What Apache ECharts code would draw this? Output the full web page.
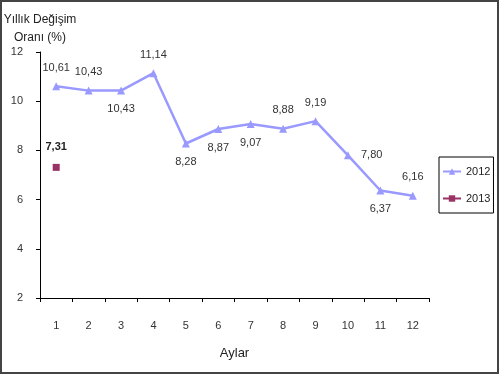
<!DOCTYPE html>
<html><head><meta charset="utf-8">
<script src="https://cdn.jsdelivr.net/npm/echarts@6/dist/echarts.min.js"></script>
<style>html,body{margin:0;padding:0;background:#fff}#c{width:500px;height:375px}</style>
</head><body><div id="c"></div>
<script>
const months = ['1','2','3','4','5','6','7','8','9','10','11','12'];
const values2012 = [10.61, 10.43, 10.43, 11.14, 8.28, 8.87, 9.07, 8.88, 9.19, 7.80, 6.37, 6.16];
const values2013 = [7.31, null, null, null, null, null, null, null, null, null, null, null];
const yTicks = [2, 4, 6, 8, 10, 12];
const labelSide2012 = ['top','top','bottom','top','bottom','bottom','bottom','top','top','right','bottom','top'];

const fmt = v => v.toFixed(2).replace('.', ',');
const font = '"Liberation Sans", Arial, sans-serif';
const chart = echarts.init(document.getElementById('c'));
chart.setOption({
  animation: false,
  textStyle: {fontFamily: font},
  graphic: [{type:'rect', shape:{x:1,y:1,width:497,height:372}, style:{fill:'none', stroke:'#444', lineWidth:2}, z:-1}],
  grid: {left: 40, right: 71, top: 52, bottom: 77, outerBoundsMode: 'none', containLabel: false},
  legend: {
    orient: 'vertical', left: 439, top: 157, itemGap: 16,
    borderColor: '#000', borderWidth: 1, padding: [9, 3, 9, 3],
    itemWidth: 18, itemHeight: 8,
    textStyle: {fontSize: 11, color: '#222', fontFamily: font},
    data: ['2012', '2013']
  },
  xAxis: {
    type: 'category', data: months, boundaryGap: true,
    name: 'Aylar', nameLocation: 'middle', nameGap: 49,
    nameTextStyle: {fontSize: 13, color: '#222', fontFamily: font},
    axisLine: {lineStyle: {color: '#000'}},
    axisTick: {show: true, alignWithLabel: false, length: 4, lineStyle: {color: '#000'}},
    axisLabel: {fontSize: 11, color: '#333', margin: 22}
  },
  yAxis: {
    type: 'value', min: 2, max: 12, interval: 2,
    name: 'Yıllık Değişim\nOranı (%)', nameLocation: 'end', nameGap: 1,
    nameTextStyle: {fontSize: 12, color: '#222', align: 'center', lineHeight: 18, fontFamily: font},
    axisLine: {show: true, lineStyle: {color: '#000'}},
    axisTick: {show: true, length: 4, lineStyle: {color: '#000'}},
    axisLabel: {fontSize: 11, color: '#333', margin: 17},
    splitLine: {show: false}
  },
  series: [
    {
      name: '2012', type: 'line',
      data: values2012.map((v, i) => ({value: v, label: {position: labelSide2012[i]}})),
      symbol: 'triangle', symbolSize: 8,
      lineStyle: {color: '#9999FF', width: 2.5},
      itemStyle: {color: '#9999FF'},
      label: {show: true, formatter: p => fmt(p.value), fontSize: 11, color: '#333', distance: 9}
    },
    {
      name: '2013', type: 'line',
      data: values2013,
      symbol: 'rect', symbolSize: 7,
      showAllSymbol: true,
      lineStyle: {color: '#993366', width: 2.5},
      itemStyle: {color: '#993366'},
      label: {show: true, position: 'top', formatter: p => fmt(p.value), fontSize: 11, color: '#222', fontWeight: 'bold', distance: 11}
    }
  ]
});
</script></body></html>
